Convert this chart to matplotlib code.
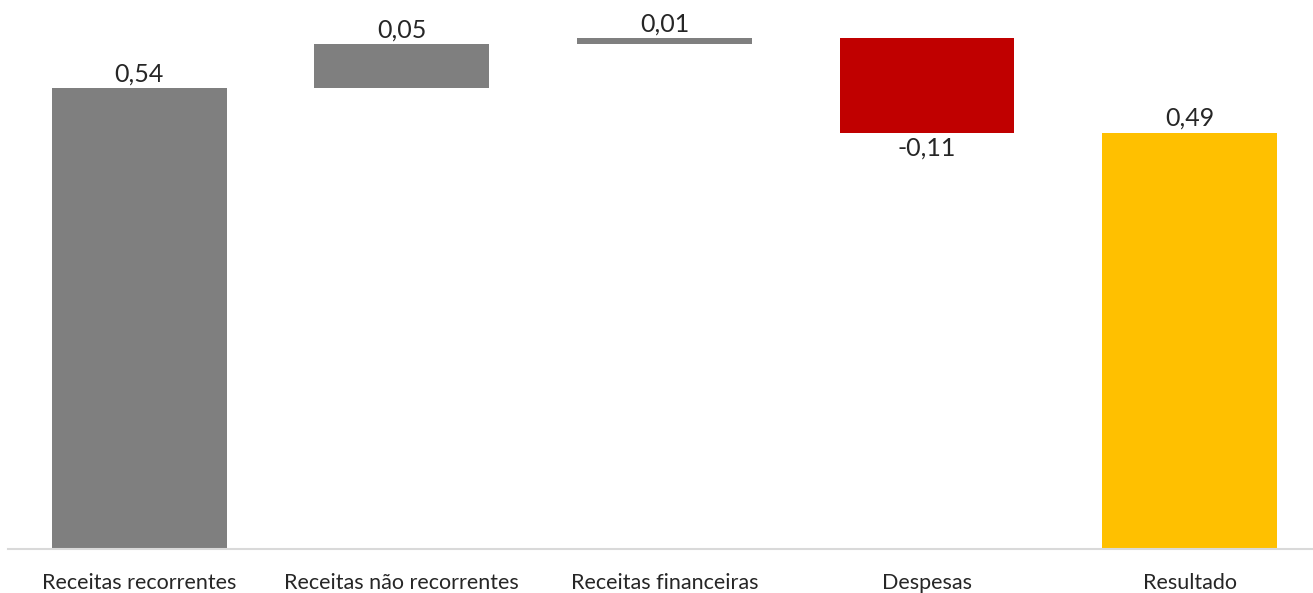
import matplotlib
matplotlib.use('Agg')
from matplotlib import pyplot as plt

categories = ['Receitas recorrentes', 'Receitas não recorrentes', 'Receitas financeiras', 'Despesas', 'Resultado']
steps = [0.540, 0.051, 0.0075, -0.111]
colors = ['#7f7f7f', '#7f7f7f', '#7f7f7f', '#c00000', '#ffc000']

plt.rcParams['font.family'] = ['Lato', 'DejaVu Sans']

result = sum(steps)
heights = []
bottoms = []
running = 0.0
for s in steps:
    if s >= 0:
        bottoms.append(running)
        heights.append(s)
    else:
        bottoms.append(running + s)
        heights.append(-s)
    running += s
bottoms.append(0.0)
heights.append(result)
values = steps + [result]

fig = plt.figure(figsize=(13.13, 5.93), dpi=100)
ax = fig.add_axes([8 / 1313, 44 / 593, 1305 / 1313, 549 / 593])
x = list(range(len(categories)))
ax.bar(x, heights, bottom=bottoms, width=0.666, color=colors, zorder=2)

for i, v in enumerate(values):
    label = f'{v:.2f}'.replace('.', ',')
    if v >= 0:
        ax.annotate(label, (i, bottoms[i] + heights[i]), xytext=(0, 2), textcoords='offset points',
                    ha='center', va='bottom', fontsize=18, color='#262626')
    else:
        ax.annotate(label, (i, bottoms[i]), xytext=(0, -3), textcoords='offset points',
                    ha='center', va='top', fontsize=18, color='#262626')

ax.set_xlim(-0.5, 4.47)
ax.set_ylim(0, 0.643)
ax.set_xticks(x)
ax.set_xticklabels(categories, fontsize=15.5, color='#262626')
ax.tick_params(axis='x', length=0, pad=17)
ax.set_yticks([])
for side in ['top', 'right', 'left']:
    ax.spines[side].set_visible(False)
ax.spines['bottom'].set_color('#d9d9d9')
ax.spines['bottom'].set_linewidth(1.5)

fig.savefig('out.png', dpi=100)
